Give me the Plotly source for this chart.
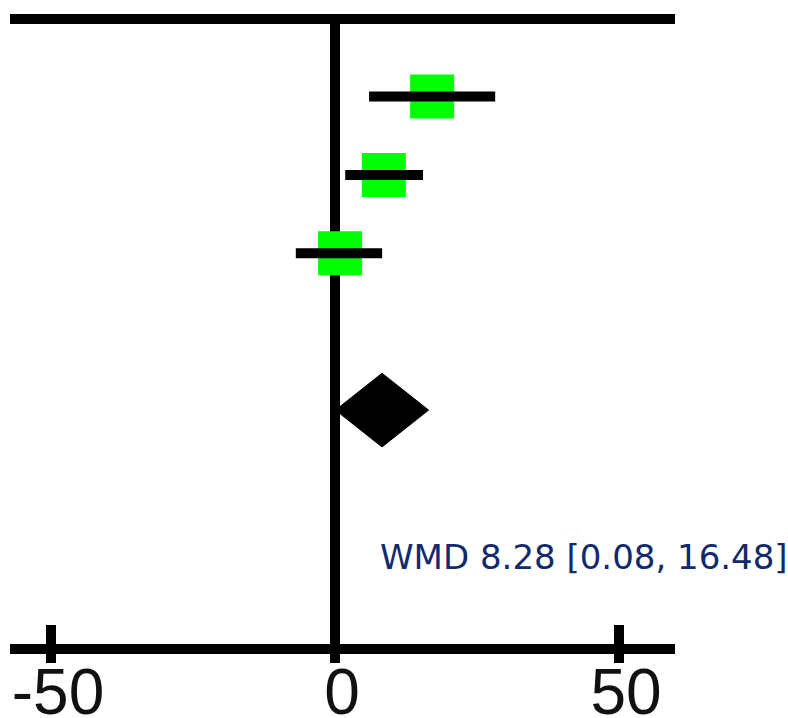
import plotly.graph_objects as go

# Study data (weighted mean difference and 95% CI)
study_rows = [1, 2, 3]
study_mean = [17.1, 8.6, 0.9]
study_lo = [6.0, 1.8, -6.9]
study_hi = [28.2, 15.5, 8.3]

pooled_row = 5
pooled_mean = 8.28
pooled_lo = 0.08
pooled_hi = 16.48

tick_vals = [-50, 0, 50]
tick_text = ["-50", "0", "50"]

fig = go.Figure()

# squares
fig.add_trace(go.Scatter(
    x=study_mean, y=study_rows, mode="markers",
    marker=dict(symbol="square", size=44, color="#00ff00", line=dict(width=0)),
    showlegend=False, hoverinfo="skip"))

# CI lines on top
ci_x, ci_y = [], []
for r, lo, hi in zip(study_rows, study_lo, study_hi):
    ci_x += [lo, hi, None]
    ci_y += [r, r, None]
fig.add_trace(go.Scatter(
    x=ci_x, y=ci_y, mode="lines",
    line=dict(color="black", width=10),
    showlegend=False, hoverinfo="skip"))

# pooled diamond
dh = 0.47
fig.add_trace(go.Scatter(
    x=[pooled_lo, pooled_mean, pooled_hi, pooled_mean, pooled_lo],
    y=[pooled_row, pooled_row - dh, pooled_row, pooled_row + dh, pooled_row],
    mode="lines", fill="toself", fillcolor="black",
    line=dict(color="black", width=1),
    showlegend=False, hoverinfo="skip"))

fig.add_annotation(
    x=pooled_mean, y=6.87, xref="x", yref="y",
    text=f"WMD {pooled_mean:.2f} [{pooled_lo:.2f}, {pooled_hi:.2f}]",
    showarrow=False, xanchor="left", yanchor="middle", xshift=-4,
    font=dict(family="DejaVu Sans", size=34, color="#102a6b"))

fig.update_layout(
    width=788, height=718,
    margin=dict(l=10, r=113, t=24, b=74, autoexpand=False),
    paper_bgcolor="white", plot_bgcolor="white",
    showlegend=False,
    xaxis=dict(
        range=[-57.22, 59.86], automargin=False,
        showgrid=False,
        zeroline=True, zerolinecolor="black", zerolinewidth=10,
        showline=True, linecolor="black", linewidth=10, mirror=True,
        tickmode="array", tickvals=tick_vals, ticktext=tick_text,
        ticks="outside", ticklen=9, tickwidth=10, tickcolor="black",
        ticklabelshift=7, ticklabelstandoff=-26,
        tickfont=dict(family="Liberation Sans", size=64, color="#111"),
    ),
    xaxis2=dict(
        range=[-57.22, 59.86], overlaying="x", side="bottom", anchor="y",
        automargin=False,
        showgrid=False, zeroline=False, showline=False,
        tickmode="array", tickvals=tick_vals, showticklabels=False,
        ticks="inside", ticklen=19, tickwidth=10, tickcolor="black",
    ),
    yaxis=dict(range=[7.983, 0.0753], visible=False, showgrid=False,
               zeroline=False, automargin=False),
)

# dummy trace to activate xaxis2
fig.add_trace(go.Scatter(x=[None], y=[None], xaxis="x2", showlegend=False, hoverinfo="skip"))

fig.write_html("out.html", config={"displayModeBar": False},
               post_script="document.body.style.margin='0px';")
